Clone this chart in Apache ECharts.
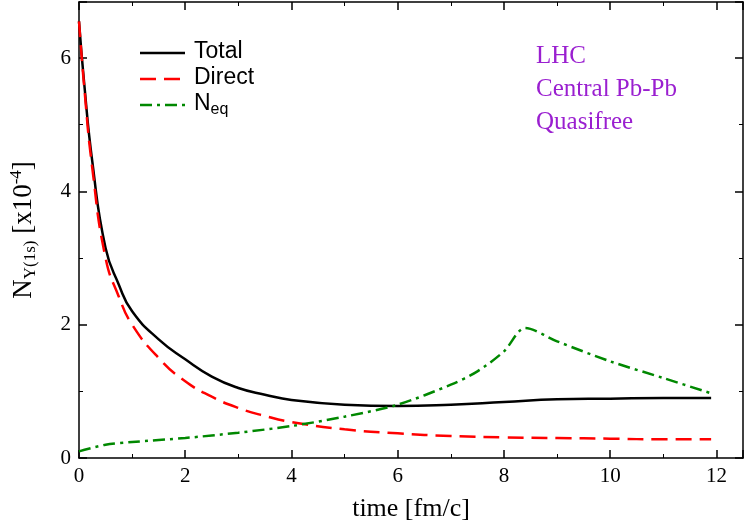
<!DOCTYPE html><html><head><meta charset="utf-8"><script src="https://cdn.jsdelivr.net/npm/echarts@6/dist/echarts.min.js"></script></head><body style="margin:0"><div id="c" style="width:747px;height:527px"></div><script>
const tTotal=[0,0.1,0.25,0.5,0.75,1,1.5,2,2.5,3,3.5,4,5,6,7,8,9,10,11,11.9];
const vTotal=[6.55,5.6,4.45,3.15,2.6,2.2,1.78,1.48,1.22,1.05,0.95,0.87,0.8,0.78,0.8,0.84,0.88,0.89,0.9,0.9];
const tDirect=[0,0.1,0.25,0.5,0.75,1,1.5,2,2.5,3,3.5,4,5,6,7,8,9,10,11,11.9];
const vDirect=[6.55,5.55,4.35,3.0,2.42,2.0,1.5,1.15,0.92,0.75,0.63,0.54,0.43,0.37,0.33,0.31,0.3,0.29,0.28,0.28];
const tNeq=[0,0.5,1,2,3,4,5,6,7,7.5,8,8.4,9,10,11,11.9];
const vNeq=[0.1,0.2,0.24,0.3,0.38,0.48,0.62,0.8,1.1,1.3,1.6,1.95,1.75,1.45,1.2,0.97];
const z=(t,v)=>t.map((x,i)=>[x,v[i]]);
const serif='Liberation Serif';
const ax={min:0,axisLine:{onZero:false,lineStyle:{color:'#000',width:1.5}},axisTick:{inside:true,length:8,lineStyle:{color:'#000',width:1.5}},minorTick:{show:true,splitNumber:2,length:4,lineStyle:{color:'#000'}},splitLine:{show:false}};
const c=echarts.init(document.getElementById('c'));
c.setOption({animation:false,grid:{left:76,right:4,top:2,bottom:59},
xAxis:[Object.assign({type:'value',max:12.5,interval:2,name:'time [fm/c]',nameLocation:'middle',nameGap:38,nameTextStyle:{fontFamily:serif,fontSize:26,color:'#000'},axisLabel:{fontFamily:serif,fontSize:21,color:'#000',formatter:v=>v>12?'':v}},ax),
 Object.assign({type:'value',max:12.5,interval:2,position:'top',axisLabel:{show:false}},ax)],
yAxis:[Object.assign({type:'value',max:6.84,interval:2,name:'{a|N}{s|Υ(1s)}{a| [x10}{p|-4}{a|]}',nameLocation:'middle',nameGap:40,nameRotate:90,nameTextStyle:{rich:{a:{fontFamily:serif,fontSize:27,color:'#000'},s:{fontFamily:serif,fontSize:17,color:'#000',verticalAlign:'bottom',padding:[14,0,0,0]},p:{fontFamily:serif,fontSize:17,color:'#000',padding:[0,0,14,0]}}},axisLabel:{fontFamily:serif,fontSize:21,color:'#000',formatter:v=>v>6?'':v}},ax),
 Object.assign({type:'value',max:6.84,interval:2,position:'right',axisLabel:{show:false}},ax)],
series:[
{name:'Total',type:'line',smooth:true,showSymbol:false,data:z(tTotal,vTotal),lineStyle:{color:'#000',width:2.5}},
{name:'Direct',type:'line',smooth:true,showSymbol:false,data:z(tDirect,vDirect),lineStyle:{color:'#f00',width:2.5,type:[16,8]}},
{name:'Neq',type:'line',smooth:0.3,showSymbol:false,data:z(tNeq,vNeq),lineStyle:{color:'#080',width:2.5,type:[12,5,3,5]}}],
graphic:[
{type:'line',shape:{x1:140,y1:53,x2:185,y2:53},style:{stroke:'#000',lineWidth:2.5}},
{type:'line',shape:{x1:140,y1:79,x2:185,y2:79},style:{stroke:'#f00',lineWidth:2.5,lineDash:[16,8]}},
{type:'line',shape:{x1:140,y1:105,x2:185,y2:105},style:{stroke:'#080',lineWidth:2.5,lineDash:[12,5,3,5]}},
{type:'text',left:194,top:40,style:{text:'Total',font:'23px "Liberation Sans"',fill:'#000'}},
{type:'text',left:194,top:66,style:{text:'Direct',font:'23px "Liberation Sans"',fill:'#000'}},
{type:'text',left:194,top:92,style:{text:'{a|N}{s|eq}',rich:{a:{font:'23px "Liberation Sans"',fill:'#000'},s:{font:'16px "Liberation Sans"',fill:'#000',padding:[12,0,0,0]}}}},
{type:'text',left:536,top:40,style:{text:'LHC\nCentral Pb-Pb\nQuasifree',font:'25px "Liberation Serif"',lineHeight:33,fill:'#9a1fd0'}}]});
</script></body></html>
